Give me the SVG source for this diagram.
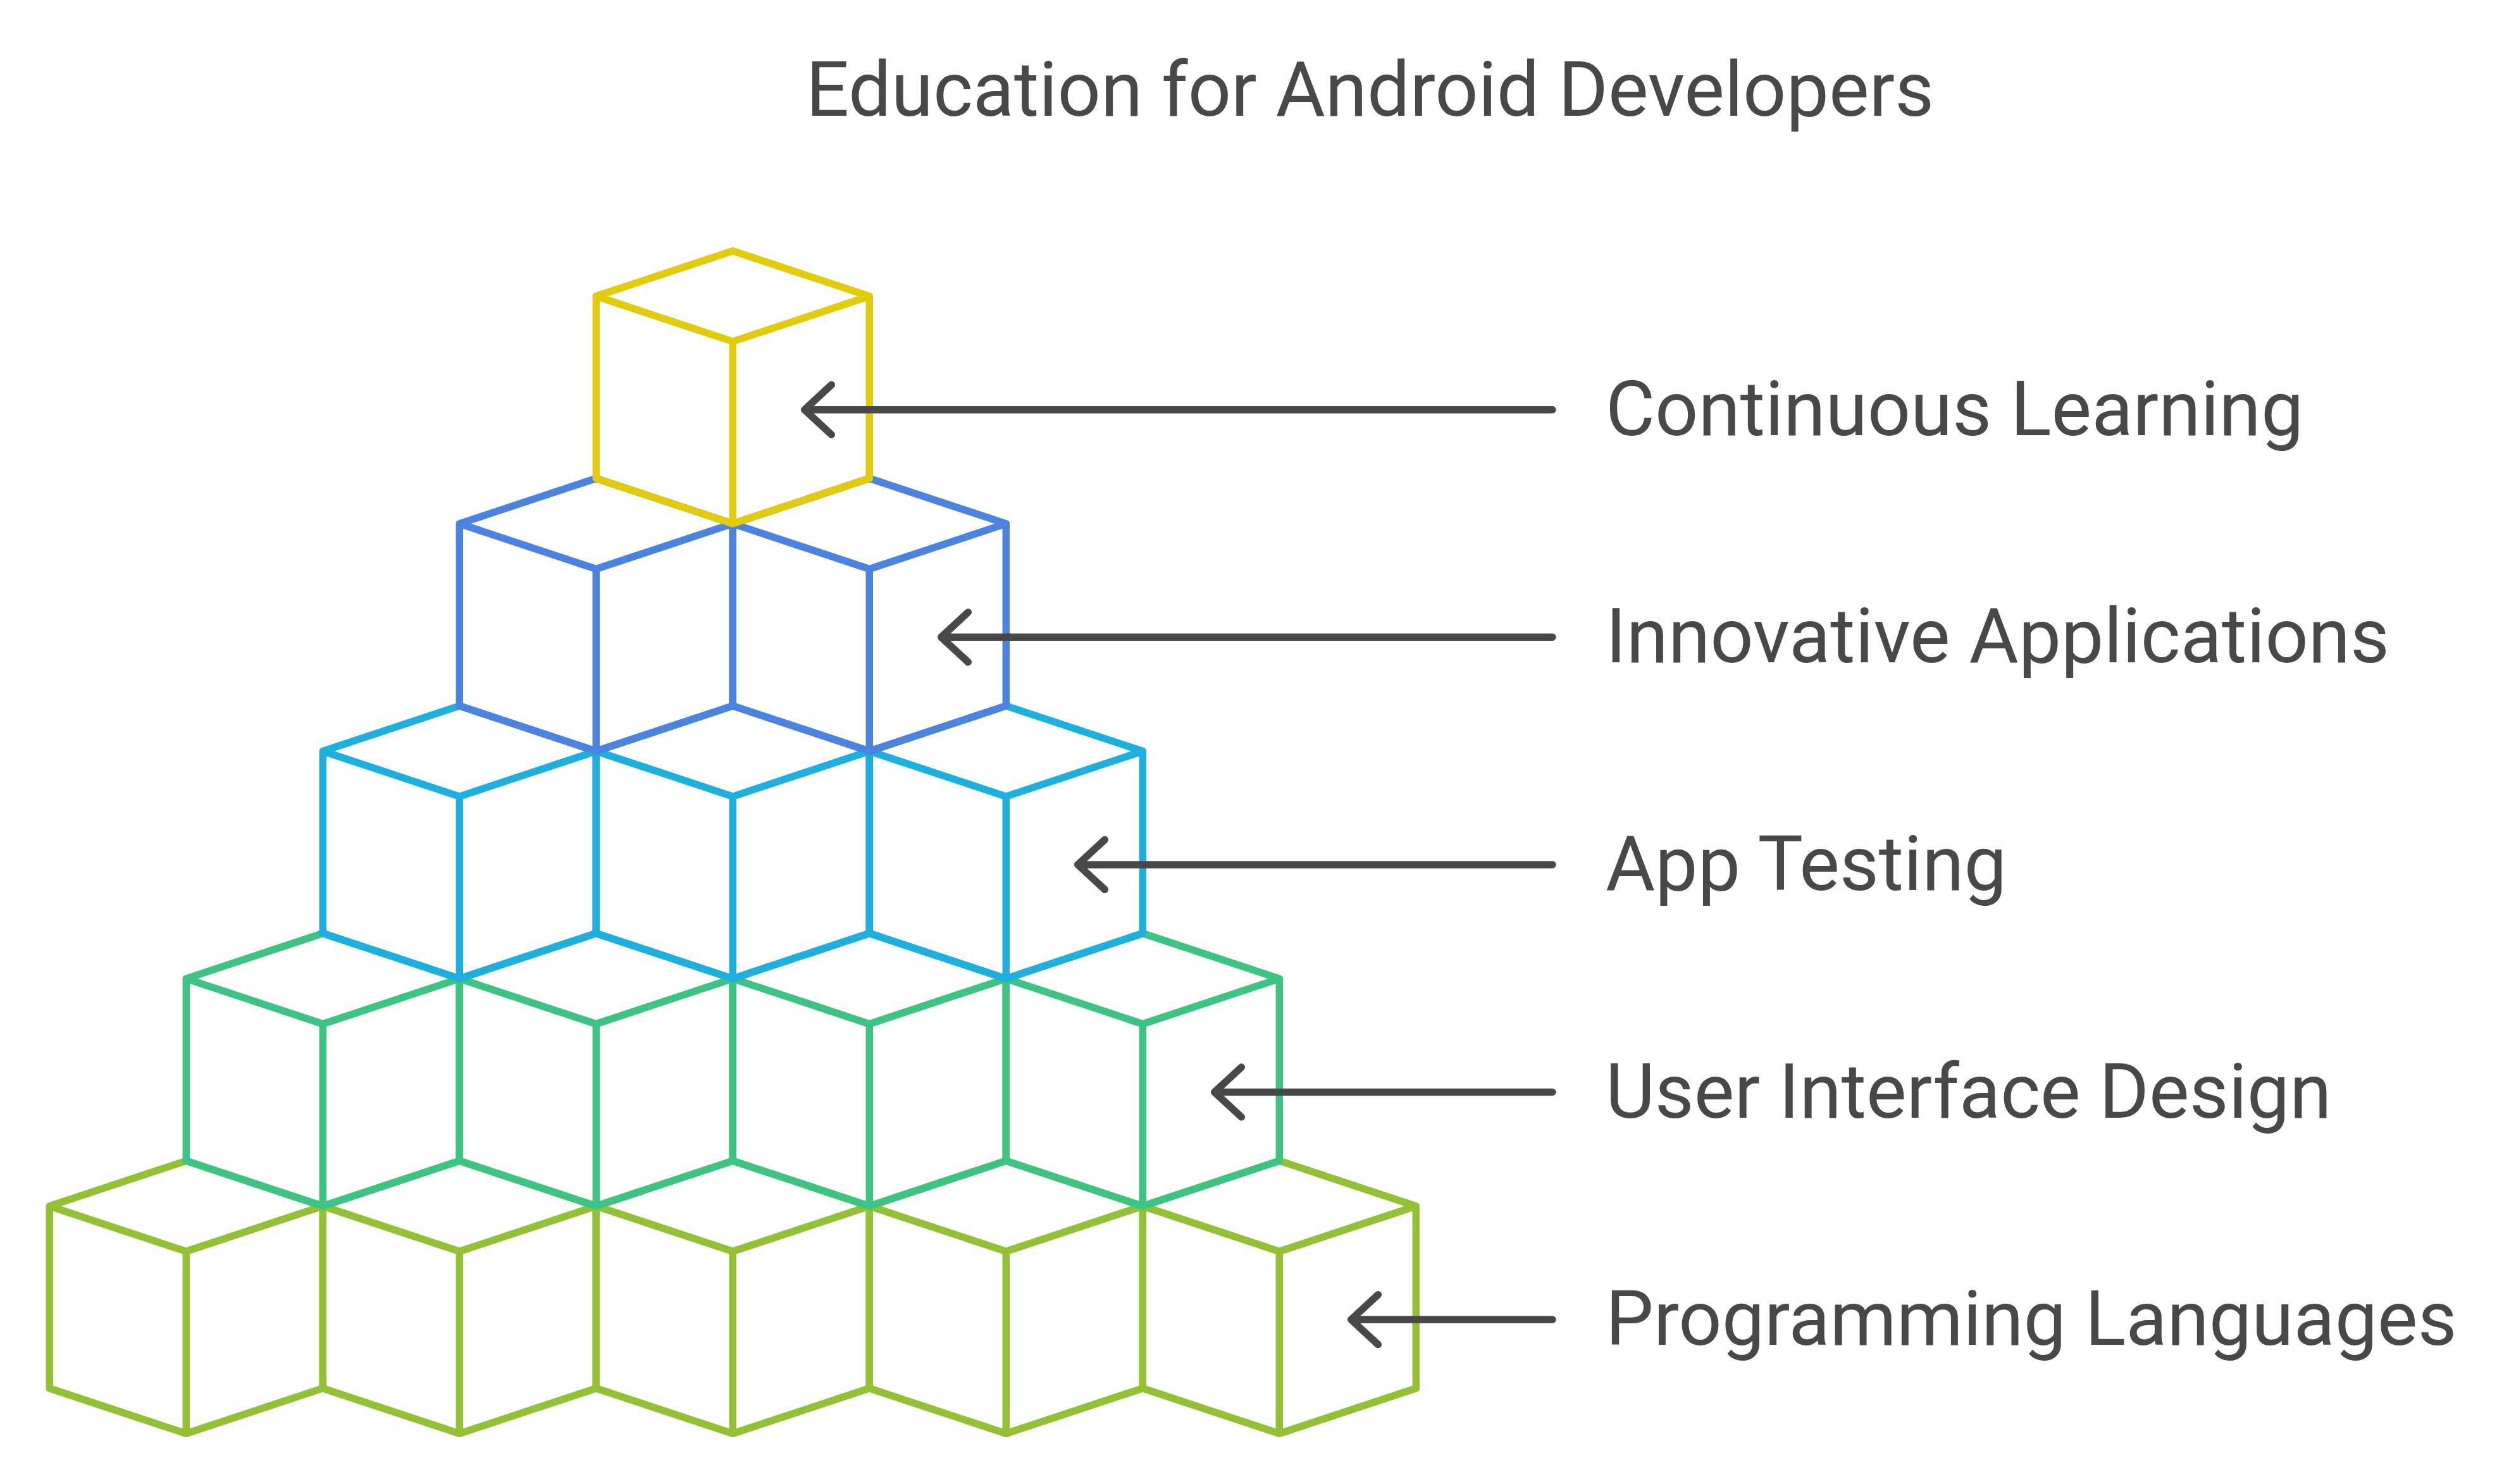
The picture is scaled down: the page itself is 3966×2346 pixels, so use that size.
<svg xmlns="http://www.w3.org/2000/svg" xmlns:xlink="http://www.w3.org/1999/xlink" width="3966" height="2346" viewBox="0 0 3966 2346">
  <defs>
    <style>
      .cube { fill: none; stroke-width: 11.5; stroke-linejoin: round; stroke-linecap: round; }
      .t5 { stroke: #93C134; }
      .t4 { stroke: #3CC483; }
      .t3 { stroke: #1CB0E0; }
      .t2 { stroke: #4A83E0; }
      .t1 { stroke: #E1CC07; }
      .lbl { font-family: Roboto, "Liberation Sans", Arial, sans-serif; font-size: 120px; fill: #484848; }
      .title { font-family: Roboto, "Liberation Sans", Arial, sans-serif; font-size: 120px; fill: #484848; }
      .arrow { fill: none; stroke: #484848; stroke-width: 11.5; stroke-linecap: round; stroke-linejoin: round; }
    </style>
    <path id="cube" d="M0,0 L216,71.6 L216,359.6 L0,431.2 L-216,359.6 L-216,71.6 Z M-216,71.6 L0,143.2 L216,71.6 M0,143.2 L0,431.2"/>
  </defs>
  <rect width="3966" height="2346" fill="#FFFFFF"/>
  <text class="title" x="1274" y="183.3">Education for Android Developers</text>

  <g id="tier-programming-languages">
    <g class="cube t5">
      <use xlink:href="#cube" x="294.3" y="1835.1"/>
      <use xlink:href="#cube" x="726.3" y="1835.1"/>
      <use xlink:href="#cube" x="1158.3" y="1835.1"/>
      <use xlink:href="#cube" x="1590.3" y="1835.1"/>
      <use xlink:href="#cube" x="2022.3" y="1835.1"/>
    </g>
    <text class="lbl" x="2538" y="2126.1">Programming Languages</text>
  </g>

  <g id="tier-user-interface-design">
    <g class="cube t4">
      <use xlink:href="#cube" x="510.3" y="1475.5"/>
      <use xlink:href="#cube" x="942.3" y="1475.5"/>
      <use xlink:href="#cube" x="1374.3" y="1475.5"/>
      <use xlink:href="#cube" x="1806.3" y="1475.5"/>
    </g>
    <text class="lbl" x="2538" y="1766.5">User Interface Design</text>
  </g>

  <g id="tier-app-testing">
    <g class="cube t3">
      <use xlink:href="#cube" x="726.3" y="1115.9"/>
      <use xlink:href="#cube" x="1158.3" y="1115.9"/>
      <use xlink:href="#cube" x="1590.3" y="1115.9"/>
    </g>
    <text class="lbl" x="2538" y="1406.9">App Testing</text>
  </g>

  <g id="tier-innovative-applications">
    <g class="cube t2">
      <use xlink:href="#cube" x="942.3" y="756.3"/>
      <use xlink:href="#cube" x="1374.3" y="756.3"/>
    </g>
    <text class="lbl" x="2538" y="1047.3">Innovative Applications</text>
  </g>

  <g id="tier-continuous-learning">
    <g class="cube t1">
      <use xlink:href="#cube" x="1158.3" y="396.7"/>
    </g>
    <text class="lbl" x="2538" y="687.7">Continuous Learning</text>
  </g>

  <g id="connectors" class="arrow">
    <path d="M2454,647.7 L1271.7,647.7 M1314.3,608.3 L1271.7,647.7 L1314.3,687.1"/>
    <path d="M2454,1007.3 L1487.7,1007.3 M1530.3,967.9 L1487.7,1007.3 L1530.3,1046.7"/>
    <path d="M2454,1366.9 L1703.7,1366.9 M1746.3,1327.5 L1703.7,1366.9 L1746.3,1406.3"/>
    <path d="M2454,1726.5 L1919.7,1726.5 M1962.3,1687.1 L1919.7,1726.5 L1962.3,1765.9"/>
    <path d="M2454,2086.1 L2135.7,2086.1 M2178.3,2046.7 L2135.7,2086.1 L2178.3,2125.5"/>
  </g>
</svg>
